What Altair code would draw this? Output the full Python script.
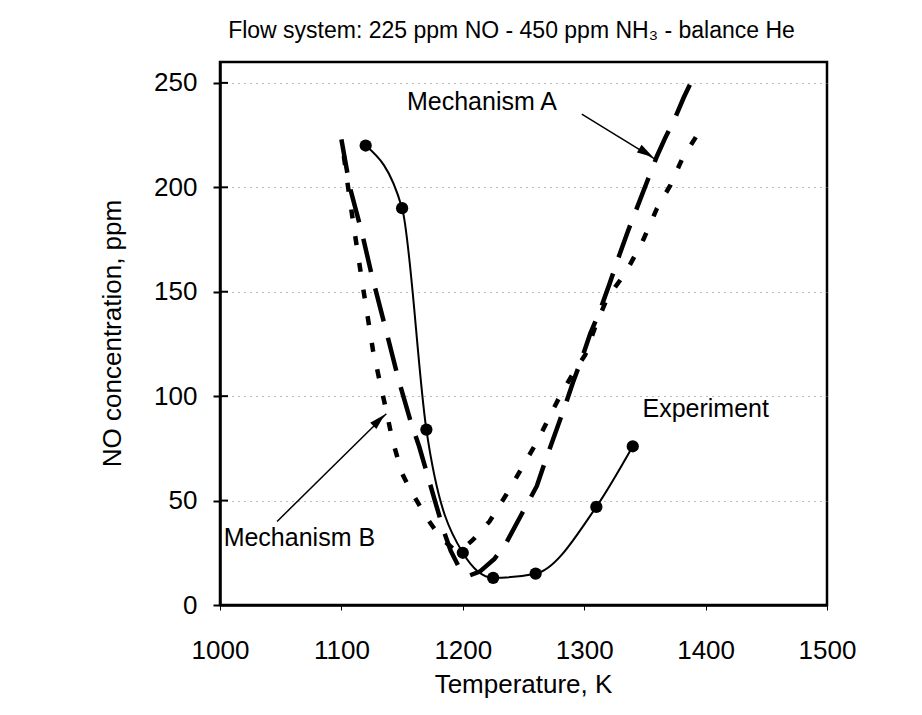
import altair as alt
import pandas as pd

FONT = "Liberation Sans"

# ---- data ----
exp_T = [1120, 1150, 1170, 1200, 1225, 1260, 1310, 1340]
exp_NO = [220, 190, 84, 25, 13, 15, 47, 76]

mechA_T = [1100, 1107, 1117, 1125, 1137, 1147, 1157, 1164, 1171, 1178, 1184, 1190, 1197, 1205,
           1214, 1226, 1236, 1248, 1261, 1268, 1276, 1284, 1291, 1298, 1305, 1313, 1321, 1328,
           1336, 1344, 1352, 1360, 1367, 1374, 1382, 1391]
mechA_NO = [223, 200, 178, 158, 131, 108, 88, 76, 62, 48, 36, 26, 18, 14,
            16, 22, 30, 43, 57, 69, 82, 95, 107, 118, 130, 141, 154, 166,
            179, 191, 203, 215, 224, 232, 243, 254]

mechB_T = [1102, 1106, 1110, 1117, 1126, 1132, 1137, 1142, 1150, 1156, 1163, 1170, 1176, 1184,
           1192, 1200, 1208, 1222, 1236, 1249, 1262, 1273, 1280, 1290, 1301, 1309, 1319, 1334,
           1348, 1360, 1371, 1381, 1393]
mechB_NO = [215, 198, 182, 155, 122, 106, 93, 79, 63, 56, 49, 42, 37, 31,
            27, 27, 31, 40, 53, 66, 79, 92, 100, 110, 120, 133, 147, 159,
            174, 190, 201, 214, 225]

y_ticks = [0, 50, 100, 150, 200, 250]
x_ticks = [1000, 1100, 1200, 1300, 1400, 1500]

label_text = ["Mechanism A", "Mechanism B", "Experiment"]
label_T = [1154, 1003, 1348]
label_NO = [241, 32, 94]

arrow_T0 = [1298, 1047]
arrow_NO0 = [235, 40]
arrow_T1 = [1358, 1137]
arrow_NO1 = [213.6, 91.6]
head_T = [1351, 1131]
head_NO = [216.5, 88.5]
head_angle = [121.6, 45.5]

title_text = "Flow system: 225 ppm NO - 450 ppm NH\u2083 - balance He"

# ---- tables ----
exp_df = pd.DataFrame({"T": exp_T, "NO": exp_NO})
a_df = pd.DataFrame({"T": mechA_T, "NO": mechA_NO})
b_df = pd.DataFrame({"T": mechB_T, "NO": mechB_NO})
lab_df = pd.DataFrame({"label": label_text, "T": label_T, "NO": label_NO})
arr_df = pd.DataFrame({"T": arrow_T0, "NO": arrow_NO0, "T2": arrow_T1, "NO2": arrow_NO1})
head_df = pd.DataFrame({"T": head_T, "NO": head_NO, "ang": head_angle})
tick_df = pd.DataFrame({"NO": y_ticks})

xscale = alt.Scale(domain=[1000, 1500], nice=False, zero=False)
yscale = alt.Scale(domain=[0, 260], nice=False)

xaxis = alt.Axis(values=x_ticks, format="d", title="Temperature, K", tickSize=5, tickWidth=1,
                 tickColor="black", labelPadding=27, labelFontSize=26, titleFontSize=26,
                 labelFlush=False, labelOverlap=False,
                 titleX=303, titleY=79, titleBaseline="middle", grid=False,
                 domainColor="black", domainWidth=2.5, labelColor="black", titleColor="black",
                 titleFontWeight="normal")
yaxis = alt.Axis(values=y_ticks, title="NO concentration, ppm", tickSize=7, tickWidth=2,
                 tickColor="black", labelPadding=16, labelFontSize=26, titleFontSize=26,
                 labelFlush=False, labelOverlap=False,
                 titleX=-108, titleY=271, titleBaseline="middle", grid=True,
                 gridDash=[1, 5], gridColor="#777777", gridWidth=1,
                 domainColor="black", domainWidth=2.5, labelColor="black", titleColor="black",
                 titleFontWeight="normal")


def X(field="T"):
    return alt.X(f"{field}:Q", scale=xscale, axis=xaxis)


def Y(field="NO"):
    return alt.Y(f"{field}:Q", scale=yscale, axis=yaxis)


exp_line = alt.Chart(exp_df).mark_line(color="black", strokeWidth=2, interpolate="monotone").encode(
    x=X(), y=Y())
exp_pts = alt.Chart(exp_df).mark_point(filled=True, color="black", size=150, opacity=1).encode(
    x=X(), y=Y())
a_line = alt.Chart(a_df).mark_line(color="black", strokeWidth=4.5, strokeDash=[34, 17]).encode(
    x=X(), y=Y(), order="T:Q")
b_line = alt.Chart(b_df).mark_line(color="black", strokeWidth=4.5, strokeDash=[9, 18]).encode(
    x=X(), y=Y(), order="T:Q")

labels = alt.Chart(lab_df).mark_text(align="left", baseline="middle", font=FONT, fontSize=25,
                                     color="black").encode(x=X(), y=Y(), text="label:N")
arrows = alt.Chart(arr_df).mark_rule(color="black", strokeWidth=1.5).encode(
    x=X(), y=Y(), x2="T2:Q", y2="NO2:Q")
heads = alt.Chart(head_df).mark_point(filled=True, color="black", opacity=1, size=260,
                                      shape="M0,-1L0.55,1L-0.55,1Z").encode(
    x=X(), y=Y(), angle=alt.Angle("ang:Q", scale=None))

inner_ticks = alt.Chart(tick_df).mark_rule(color="black", strokeWidth=2).encode(
    y=Y(), x=alt.value(0), x2=alt.value(8))

chart = alt.layer(inner_ticks, a_line, b_line, exp_line, exp_pts, arrows, heads, labels).properties(
    width=607, height=543,
    background="white",
    autosize=alt.AutoSizeParams(type="none"),
    padding={"left": 212, "top": 54, "right": 87, "bottom": 102},
    title=alt.TitleParams(title_text, fontSize=23, font=FONT, fontWeight="normal", anchor="middle",
                          dx=-12, offset=19, color="black"),
).configure_view(stroke="black", strokeWidth=2.5).configure_axis(
    labelFont=FONT, titleFont=FONT
)

chart.save("out.html", embed_options={"renderer": "svg", "actions": False})
